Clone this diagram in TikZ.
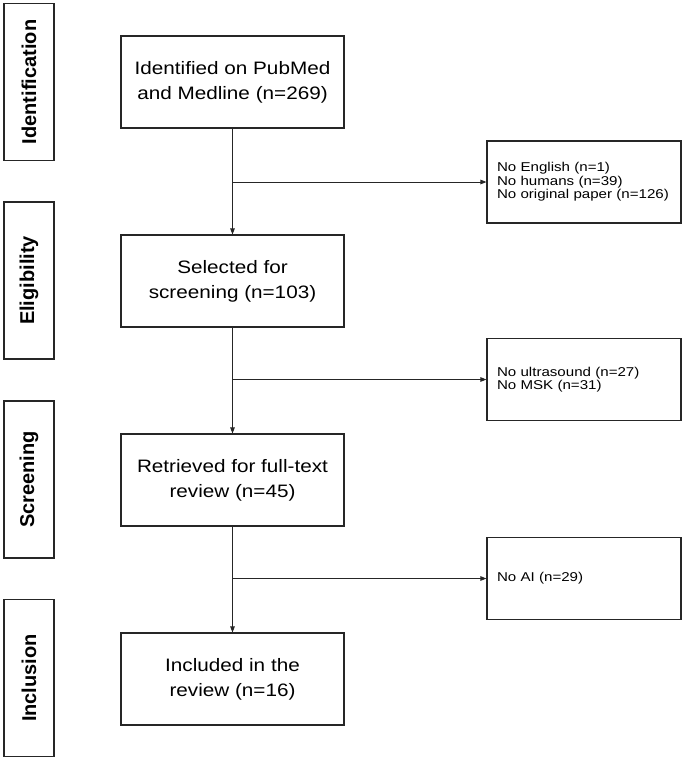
\documentclass[tikz,border=0pt]{standalone}
\usepackage{fontspec}
\setmainfont{Liberation Sans}
\newfontfamily\boxfont[FakeStretch=1.15]{Liberation Sans}
\newfontfamily\notefont[FakeStretch=1.18]{Liberation Sans}
\usetikzlibrary{arrows.meta}
\tikzset{>={Triangle[length=6pt,width=4.5pt]}}
\tikzset{
  stage/.style={draw=black!85,line width=1.8pt,rotate=90,minimum width=157pt,minimum height=50pt,inner sep=0pt,
    font=\fontsize{20}{24}\selectfont\bfseries},
  mainbox/.style={draw=black!85,line width=1.1pt,minimum width=223pt,minimum height=92pt,align=center,
    font=\boxfont\fontsize{18}{25}\selectfont},
  excbox/.style={draw=black!85,line width=1.1pt,minimum height=82pt,text width=174pt,inner xsep=10pt,align=left,
    font=\notefont\fontsize{12.8}{13.4}\selectfont},
  flow/.style={->,line width=0.9pt,draw=black!85}
}

\begin{document}
\begin{tikzpicture}[x=1pt,y=-1pt]
  \useasboundingbox (0,0) rectangle (685,761);
  % stages
  \node[stage] (ident) at (29,82) {Identification};
  \node[stage] (elig) at (29,280.5) {Eligibility};
  \node[stage] (screen) at (29,479.5) {Screening};
  \node[stage] (incl) at (29,678) {Inclusion};
  % main column
  \node[mainbox] (found) at (232.5,82) {Identified on PubMed\\and Medline (n=269)};
  \node[mainbox] (selected) at (232.5,281) {Selected for\\screening (n=103)};
  \node[mainbox] (retrieved) at (232.5,480) {Retrieved for full-text\\review (n=45)};
  \node[mainbox] (included) at (232.5,679) {Included in the\\review (n=16)};
  % excluded
  \node[excbox] (exc1) at (584,182) {No English (n=1)\\No humans (n=39)\\No original paper (n=126)};
  \node[excbox] (exc2) at (584,379.5) {No ultrasound (n=27)\\No MSK (n=31)};
  \node[excbox] (exc3) at (584,578.5) {No AI (n=29)};
  % arrows
  \draw[flow] (found) -- (selected);
  \draw[flow] (selected) -- (retrieved);
  \draw[flow] (retrieved) -- (included);
  \draw[flow] (found.south |- exc1.west) -- (exc1.west);
  \draw[flow] (selected.south |- exc2.west) -- (exc2.west);
  \draw[flow] (retrieved.south |- exc3.west) -- (exc3.west);
\end{tikzpicture}
\end{document}
